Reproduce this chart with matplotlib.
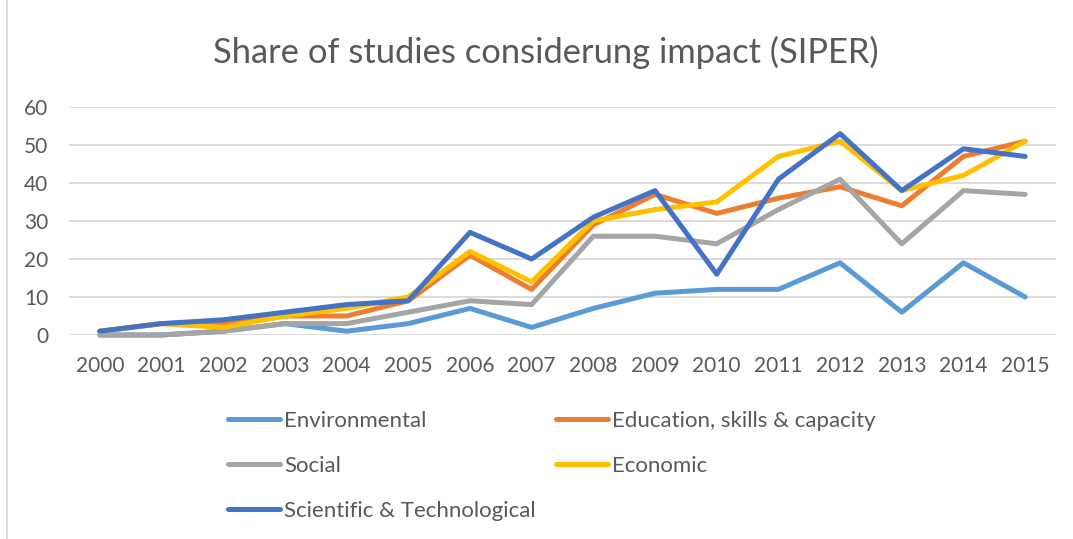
import numpy as np
import matplotlib
matplotlib.use("Agg")
import matplotlib.pyplot as plt
from matplotlib.lines import Line2D

plt.rcParams['font.family'] = ['Lato', 'DejaVu Sans']

years = [str(y) for y in range(2000, 2016)]
environmental = [0, 0, 1, 3, 1, 3, 7, 2, 7, 11, 12, 12, 19, 6, 19, 10]
education = [1, 3, 3, 5, 5, 9, 21, 12, 29, 37, 32, 36, 39, 34, 47, 51]
social = [0, 0, 1, 3, 3, 6, 9, 8, 26, 26, 24, 33, 41, 24, 38, 37]
economic = [1, 3, 2, 5, 7, 10, 22, 14, 30, 33, 35, 47, 51, 38, 42, 51]
scientific = [1, 3, 4, 6, 8, 9, 27, 20, 31, 38, 16, 41, 53, 38, 49, 47]

names = ['Environmental', 'Education, skills & capacity', 'Social',
         'Economic', 'Scientific & Technological']
series = [environmental, education, social, economic, scientific]
colors = ['#5B9BD5', '#ED7D31', '#A5A5A5', '#FFC000', '#4472C4']
text_col = '#595959'

W, H = 1073, 539
fig = plt.figure(figsize=(W / 100, H / 100), dpi=100)
ax = fig.add_axes([69 / W, (H - 335) / H, (1056 - 69) / W, (335 - 107) / H])

x = np.arange(len(years))
handles = []
for vals, name, c in zip(series, names, colors):
    ln, = ax.plot(x, vals, color=c, lw=3.6, solid_capstyle='round',
                  solid_joinstyle='round', label=name, clip_on=False)
    handles.append(ln)

ax.set_xlim(-0.5, len(years) - 0.5)
ax.set_ylim(0, 60)
ax.set_yticks(range(0, 61, 10))
ax.set_xticks(x)
ax.set_xticklabels(years)
ax.grid(axis='y', color='#D9D9D9', lw=1.3)
ax.set_axisbelow(True)
for s in ax.spines.values():
    s.set_visible(False)
ax.tick_params(length=0, labelsize=15, colors=text_col)
ax.tick_params(axis='y', pad=15)
ax.tick_params(axis='x', pad=15)

fig.text(546 / W, 1 - 52 / H, 'Share of studies considerung impact (SIPER)',
         ha='center', va='center', fontsize=24.8, color=text_col)

# legend: column-first fill, so reorder to get Excel's row layout
order = [0, 2, 4, 1, 3]
leg = fig.legend([handles[i] for i in order], [names[i] for i in order],
                 ncol=2, loc='upper left', bbox_to_anchor=(228 / W, 1 - 411 / H),
                 frameon=False, fontsize=16, handlelength=2.35,
                 handletextpad=0.18, columnspacing=0.9, labelspacing=1.13,
                 borderpad=0, borderaxespad=0)
for t in leg.get_texts():
    t.set_color(text_col)

fig.add_artist(Line2D([7 / W, 7 / W], [0, 1], color='#D9D9D9', lw=1.3))

fig.savefig('out.png', dpi=100)
